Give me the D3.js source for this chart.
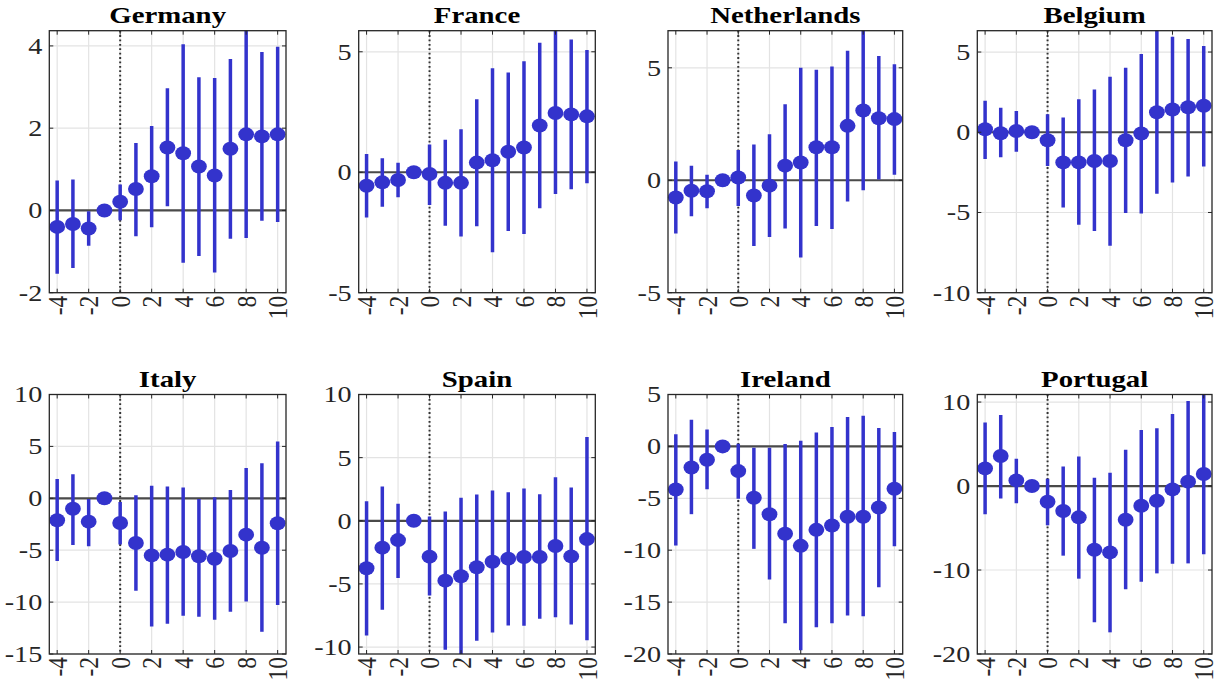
<!DOCTYPE html>
<html><head><meta charset="utf-8">
<script src="https://cdn.jsdelivr.net/npm/d3@7"></script>
<style>body{margin:0;background:#fff}svg{display:block}</style>
</head><body><svg id="c" width="1223" height="686"></svg>
<script>
const countries = ["Germany","France","Netherlands","Belgium","Italy","Spain","Ireland","Portugal"];
const horizons = [-4,-3,-2,-1,0,1,2,3,4,5,6,7,8,9,10];
const xTicks = [-4,-2,0,2,4,6,8,10];

const germanyEst = [-0.40,-0.33,-0.44,0,0.21,0.52,0.83,1.53,1.39,1.07,0.85,1.50,1.85,1.80,1.85];
const germanyLo  = [-1.54,-1.40,-0.86,0,-0.24,-0.63,-0.41,0.10,-1.27,-1.11,-1.51,-0.69,-0.67,-0.25,-0.28];
const germanyHi  = [0.73,0.75,-0.02,0,0.63,1.64,2.05,2.97,4.04,3.24,3.22,3.68,4.45,3.85,3.98];

const franceEst = [-0.56,-0.42,-0.32,0,-0.07,-0.44,-0.44,0.40,0.50,0.85,1.03,1.94,2.46,2.40,2.32];
const franceLo  = [-1.88,-1.43,-1.04,0,-1.36,-2.22,-2.67,-2.24,-3.32,-2.44,-2.56,-1.49,-0.90,-0.71,-0.46];
const franceHi  = [0.76,0.58,0.39,0,1.15,1.35,1.78,3.03,4.32,4.14,4.61,5.38,5.95,5.51,5.07];

const netherlandsEst = [-0.77,-0.47,-0.49,0,0.12,-0.68,-0.24,0.65,0.79,1.47,1.47,2.42,3.10,2.76,2.72];
const netherlandsLo  = [-2.37,-1.60,-1.25,0,-1.14,-2.92,-2.52,-2.14,-3.44,-2.03,-2.17,-0.95,-0.45,0.03,0.24];
const netherlandsHi  = [0.83,0.65,0.25,0,1.34,1.59,2.05,3.38,5.00,4.91,5.06,5.76,6.70,5.52,5.16];

const belgiumEst = [0.19,-0.06,0.08,0,-0.50,-1.88,-1.88,-1.79,-1.79,-0.50,-0.08,1.25,1.42,1.56,1.65];
const belgiumLo  = [-1.67,-1.56,-1.21,0,-2.10,-4.69,-5.77,-6.15,-7.08,-5.04,-5.06,-3.83,-3.13,-2.75,-2.13];
const belgiumHi  = [1.96,1.52,1.33,0,1.13,0.92,2.06,2.67,3.46,4.02,4.88,6.40,5.96,5.81,5.38];

const italyEst = [-2.12,-1.00,-2.25,0,-2.38,-4.31,-5.50,-5.43,-5.18,-5.59,-5.82,-5.08,-3.50,-4.76,-2.41];
const italyLo  = [-6.05,-4.50,-4.63,0,-4.44,-8.91,-12.35,-12.09,-11.32,-11.41,-11.70,-10.93,-9.94,-12.86,-10.29];
const italyHi  = [1.86,2.32,-0.06,0,-0.35,0.29,1.22,1.13,1.03,-0.06,0.10,0.80,2.93,3.38,5.47];

const spainEst = [-3.76,-2.13,-1.53,0,-2.84,-4.74,-4.39,-3.68,-3.24,-3.00,-2.87,-2.87,-2.00,-2.82,-1.45];
const spainLo  = [-9.08,-7.05,-4.53,0,-5.92,-10.21,-10.60,-9.50,-8.84,-8.29,-8.32,-7.76,-7.63,-8.21,-9.47];
const spainHi  = [1.55,2.71,1.34,0,0.34,0.74,1.82,2.08,2.39,2.26,2.55,2.11,3.45,2.63,6.63];

const irelandEst = [-4.15,-2.03,-1.29,0,-2.38,-4.95,-6.53,-8.42,-9.58,-8.04,-7.62,-6.78,-6.78,-5.88,-4.08];
const irelandLo  = [-9.55,-6.53,-4.12,0,-5.05,-9.87,-12.83,-17.04,-19.65,-17.43,-17.04,-16.30,-16.37,-13.57,-9.61];
const irelandHi  = [1.16,2.57,1.64,0,0.26,-0.13,-0.13,0.23,0.55,1.35,1.86,2.83,2.96,1.77,1.38];

const portugalEst = [2.10,3.57,0.67,0,-1.87,-2.98,-3.73,-7.58,-7.90,-4.01,-2.34,-1.75,-0.40,0.52,1.43];
const portugalLo  = [-3.37,-1.47,-2.06,0,-4.68,-8.29,-11.03,-16.23,-17.42,-12.30,-11.39,-10.40,-9.25,-9.21,-8.13];
const portugalHi  = [7.58,8.45,3.25,0,0.87,2.34,3.53,0.99,1.59,4.33,6.67,6.87,8.57,10.12,11.0];

const yDomains = [[-2,4.37],[-5,5.875],[-5,6.65],[-10,6.33],[-15,10],[-10.55,10],[-20,5],[-20,10.9]];
const yTicks = [[-2,0,2,4],[-5,0,5],[-5,0,5],[-10,-5,0,5],[-15,-10,-5,0,5,10],[-10,-5,0,5,10],[-20,-15,-10,-5,0,5],[-20,-10,0,10]];

const series = [
  [germanyEst,germanyLo,germanyHi],[franceEst,franceLo,franceHi],
  [netherlandsEst,netherlandsLo,netherlandsHi],[belgiumEst,belgiumLo,belgiumHi],
  [italyEst,italyLo,italyHi],[spainEst,spainLo,spainHi],
  [irelandEst,irelandLo,irelandHi],[portugalEst,portugalLo,portugalHi]
];

const colL = [49.3,358.7,668,977.3];
const colR = [286,595.3,902.7,1212];
const rowT = [30.7,394.5];
const rowB = [292.7,654];

const svg = d3.select("#c");
const BLUE = "#3333cc", AX = "#262626", GRID = "#e3e3e3";
const SX = 1.2;
const FONT = "'Liberation Serif','Times New Roman',serif";

countries.forEach((name, i) => {
  const c = i % 4, r = Math.floor(i / 4);
  const L = colL[c], R = colR[c], T = rowT[r], B = rowB[r];
  const x = d3.scaleLinear().domain([-4.5, 10.53]).range([L, R]);
  const y = d3.scaleLinear().domain(yDomains[i]).range([B, T]);
  const [est, lo, hi] = series[i];
  const g = svg.append("g");
  const clipId = "clip" + i;
  svg.append("clipPath").attr("id", clipId).append("rect")
    .attr("x", L).attr("y", T).attr("width", R - L).attr("height", B - T);

  // grid
  g.append("g").selectAll("line").data(xTicks).join("line")
    .attr("x1", d => x(d)).attr("x2", d => x(d)).attr("y1", T).attr("y2", B)
    .attr("stroke", GRID).attr("stroke-width", 1.2);
  g.append("g").selectAll("line").data(yTicks[i]).join("line")
    .attr("x1", L).attr("x2", R).attr("y1", d => y(d)).attr("y2", d => y(d))
    .attr("stroke", GRID).attr("stroke-width", 1.2);

  // zero line and event line
  g.append("line").attr("x1", L).attr("x2", R).attr("y1", y(0)).attr("y2", y(0))
    .attr("stroke", "#4a4a4a").attr("stroke-width", 2.2);
  g.append("line").attr("x1", x(0)).attr("x2", x(0)).attr("y1", T).attr("y2", B)
    .attr("stroke", "#333").attr("stroke-width", 2).attr("stroke-dasharray", "1.8,2.6");

  // error bars
  g.append("g").attr("clip-path", `url(#${clipId})`).selectAll("line")
    .data(horizons).join("line")
    .attr("x1", (d) => x(d)).attr("x2", (d) => x(d))
    .attr("y1", (d, k) => y(lo[k])).attr("y2", (d, k) => y(hi[k]))
    .attr("stroke", BLUE).attr("stroke-width", 3.5);

  // markers
  g.append("g").selectAll("ellipse").data(horizons).join("ellipse")
    .attr("cx", d => x(d)).attr("cy", (d, k) => y(est[k]))
    .attr("rx", 7.9).attr("ry", 7).attr("fill", BLUE);

  // frame
  g.append("rect").attr("x", L).attr("y", T).attr("width", R - L).attr("height", B - T)
    .attr("fill", "none").attr("stroke", AX).attr("stroke-width", 1.3);

  // inward ticks on all sides
  const tk = 4;
  const tg = g.append("g").attr("stroke", AX).attr("stroke-width", 1);
  xTicks.forEach(d => {
    tg.append("line").attr("x1", x(d)).attr("x2", x(d)).attr("y1", B).attr("y2", B - tk);
    tg.append("line").attr("x1", x(d)).attr("x2", x(d)).attr("y1", T).attr("y2", T + tk);
  });
  yTicks[i].forEach(d => {
    tg.append("line").attr("x1", L).attr("x2", L + tk).attr("y1", y(d)).attr("y2", y(d));
    tg.append("line").attr("x1", R).attr("x2", R - tk).attr("y1", y(d)).attr("y2", y(d));
  });

  // y tick labels
  g.append("g").selectAll("text").data(yTicks[i]).join("text")
    .attr("transform", d => `translate(${L - 7},${y(d)}) scale(${SX},1)`)
    .attr("text-anchor", "end").attr("dy", "0.34em")
    .attr("font-family", FONT).attr("font-size", 23.5).attr("fill", AX)
    .text(d => String(d));

  // x tick labels (rotated)
  g.append("g").selectAll("text").data(xTicks).join("text")
    .attr("transform", d => `translate(${x(d)},${B + 3}) scale(${SX},1) rotate(-90)`)
    .attr("text-anchor", "end").attr("dy", "0.34em")
    .attr("font-family", FONT).attr("font-size", 23.5).attr("fill", AX)
    .text(d => String(d));

  // title
  g.append("text")
    .attr("transform", `translate(${(L + R) / 2},${T - 8}) scale(1.2,1)`)
    .attr("text-anchor", "middle")
    .attr("font-family", FONT).attr("font-weight", "bold").attr("font-size", 24)
    .attr("fill", "#000").text(name);
});
</script></body></html>
